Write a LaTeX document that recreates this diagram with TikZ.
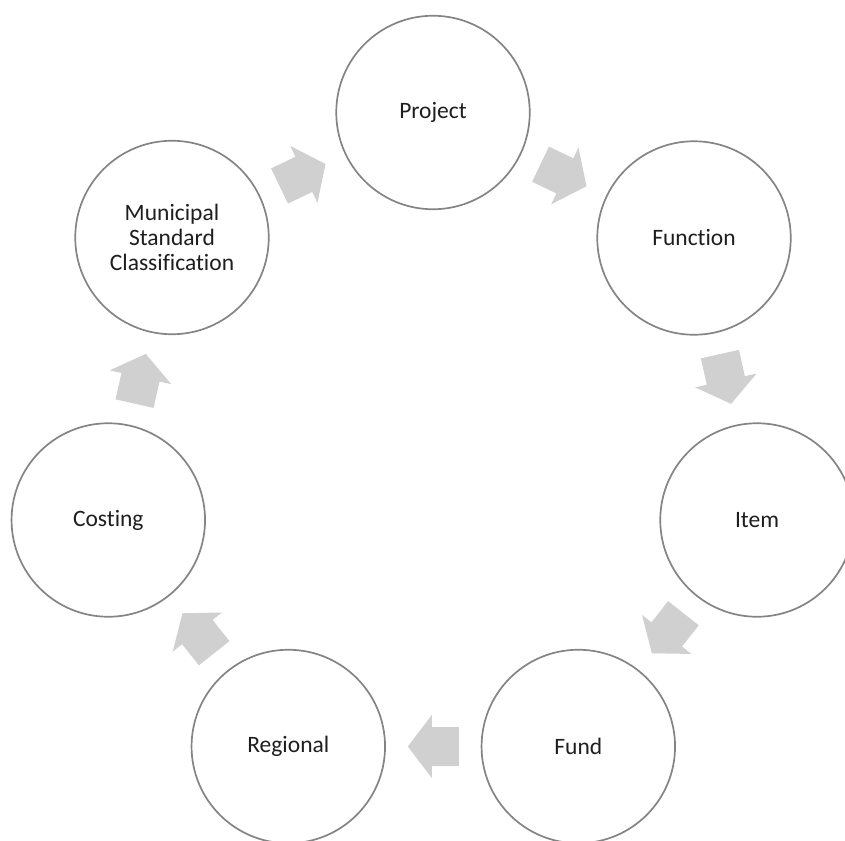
\documentclass[tikz,border=0pt]{standalone}
\usepackage{fontspec}
\setmainfont{Carlito}[Ligatures={NoCommon}]
\usetikzlibrary{calc}
\definecolor{ringline}{RGB}{132,132,132}
\definecolor{arrowfill}{RGB}{208,208,208}
\definecolor{txtcol}{RGB}{30,30,30}
\tikzset{
  ring/.style={circle, draw=ringline, line width=1.7pt, fill=white, minimum size=193.5pt,
    inner sep=0pt, align=center, text=txtcol, font=\fontsize{23.5}{25}\selectfont},
  blk/.pic={\fill[arrowfill] (-25.5,-19.5) -- (1.5,-19.5) -- (1.5,-31.5) -- (25.5,0)
     -- (1.5,31.5) -- (1.5,19.5) -- (-25.5,19.5) -- cycle;},
  flow/.style={pos=0.5, sloped, allow upside down}
}
\begin{document}
\begin{tikzpicture}[x=1pt,y=-1pt]
\useasboundingbox (0,0) rectangle (845,840);
\node[ring] (proj) at (433,112.5) {Project};
\node[ring] (func) at (694,238) {Function};
\node[ring] (item) at (757,520) {Item};
\node[ring] (fund) at (578.3,746.5) {Fund};
\node[ring] (reg)  at (288.3,746.5) {Regional};
\node[ring] (cost) at (108.3,520) {Costing};
\node[ring] (msc)  at (172,237.5) {Municipal\\Standard\\Classification};
\path (msc.center)  -- pic[flow]{blk} (proj.center);
\path (proj.center) -- pic[flow]{blk} (func.center);
\path (func.center) -- pic[flow]{blk} (item.center);
\path (item.center) -- pic[flow]{blk} (fund.center);
\path (fund.center) -- pic[flow]{blk} (reg.center);
\path (reg.center)  -- pic[flow]{blk} (cost.center);
\path (cost.center) -- pic[flow]{blk} (msc.center);
\end{tikzpicture}
\end{document}
